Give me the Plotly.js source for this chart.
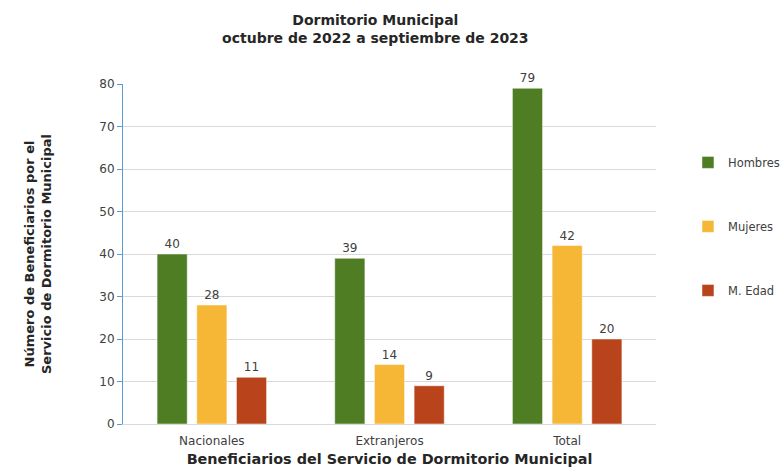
<!DOCTYPE html>
<html><head><meta charset="utf-8">
<script src="https://cdn.plot.ly/plotly-3.0.1.min.js"></script>
<style>body{margin:0;background:#fff}#c{width:782px;height:469px}</style>
</head><body><div id="c"></div>
<script>
const categories = ["Nacionales", "Extranjeros", "Total"];
const seriesNames = ["Hombres", "Mujeres", "M. Edad"];
const hombres = [40, 39, 79];
const mujeres = [28, 14, 42];
const mEdad = [11, 9, 20];
const yTicks = [0, 10, 20, 30, 40, 50, 60, 70, 80];
const colors = ["#4E7D23", "#F6B737", "#B9441B"];
const values = [hombres, mujeres, mEdad];

const font = "DejaVu Sans, sans-serif";
const traces = values.map((v, i) => ({
  type: "bar", x: categories, y: v, name: seriesNames[i],
  legendgroup: "g" + i,
  marker: {color: colors[i], line: {color: "rgba(255,255,255,0.5)", width: 1}},
  text: v.map(String), textposition: "outside", cliponaxis: false,
  textfont: {family: font, size: 12, color: "#404040"},
  hoverinfo: "none"
}));

const layout = {
  width: 782, height: 469,
  margin: {l: 123, r: 126, t: 84, b: 45, autoexpand: false},
  paper_bgcolor: "#fff", plot_bgcolor: "#fff",
  font: {family: font, color: "#404040", size: 12},
  title: {text: "<b>Dormitorio Municipal<br>octubre de 2022 a septiembre de 2023</b>",
          x: 0.48, xanchor: "center", y: 0.947, yanchor: "top",
          font: {family: font, size: 14, color: "#262626"}},
  barmode: "group", bargap: 0.33, bargroupgap: 0.24,
  xaxis: {showline: true, linecolor: "#d9d9d9", linewidth: 1, ticks: "", ticklabelstandoff: 6,
          tickfont: {size: 12, color: "#404040"},
          title: {text: "<b>Beneficiarios del Servicio de Dormitorio Municipal</b>", standoff: 6,
                  font: {size: 14.4, color: "#262626"}}},
  yaxis: {range: [0, 80], tickvals: yTicks, showgrid: true, gridcolor: "#d9d9d9",
          showline: true, linecolor: "#5B9BD5", linewidth: 1, ticks: "outside", ticklen: 5,
          tickcolor: "#5B9BD5", zeroline: false, tickfont: {size: 12, color: "#404040"},
          title: {text: "<b>Número de Beneficiarios por el<br>Servicio de Dormitorio Municipal</b>",
                  standoff: 44, font: {size: 13, color: "#262626"}}},
  legend: {x: 1.06, xanchor: "left", y: 0.812, yanchor: "top", tracegroupgap: 45,
           font: {size: 11.5, color: "#404040"}, itemwidth: 30},
  showlegend: true
};
Plotly.newPlot("c", traces, layout, {displayModeBar: false, staticPlot: true});
</script></body></html>
